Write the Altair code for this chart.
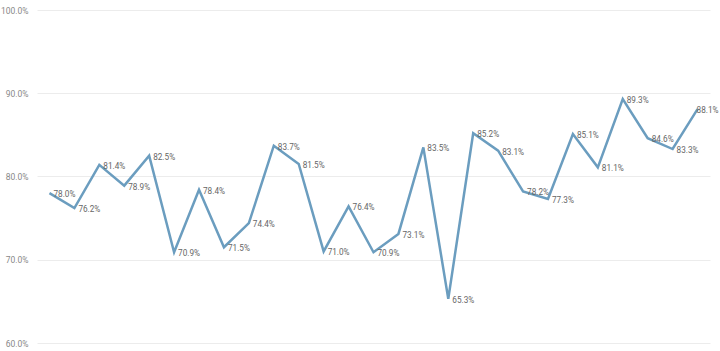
import altair as alt
import pandas as pd

values = [78.0, 76.2, 81.4, 78.9, 82.5, 70.9, 78.4, 71.5, 74.4, 83.7, 81.5, 71.0, 76.4,
          70.9, 73.1, 83.5, 65.3, 85.2, 83.1, 78.2, 77.3, 85.1, 81.1, 89.3, 84.6, 83.3, 88.1]
idx = list(range(1, len(values) + 1))

df = pd.DataFrame({"idx": idx, "v": [x / 100 for x in values]})
last = len(values)

x = alt.X("idx:O", axis=None, scale=alt.Scale(paddingInner=0, paddingOuter=0))
y = alt.Y("v:Q", scale=alt.Scale(domain=[0.6, 1.0], nice=False, zero=False),
          axis=alt.Axis(format=".1%", values=[0.6, 0.7, 0.8, 0.9, 1.0], title=None,
                        domain=False, ticks=False, labelColor="#888", labelFontSize=8.5,
                        labelFont="Roboto", labelPadding=9, gridColor="#ececec", gridWidth=1))

base = alt.Chart(df)
line = base.mark_line(color="#6b9dbf", strokeWidth=2.5).encode(x=x, y=y)
text_style = dict(align="left", baseline="middle", dy=2, fontSize=8.2, font="Roboto", color="#666")
text = base.transform_filter(alt.datum.idx < last).mark_text(dx=4, **text_style).encode(
    x=x, y=y, text=alt.Text("v:Q", format=".1%"))
text_last = base.transform_filter(alt.datum.idx == last).mark_text(dx=-1, **text_style).encode(
    x=x, y=y, text=alt.Text("v:Q", format=".1%"))

chart = (line + text + text_last).properties(
    width=673, height=333,
    autosize=alt.AutoSizeParams(type="none"),
    padding={"left": 37, "top": 10, "right": 10, "bottom": 8},
).configure(background="white", view=alt.ViewConfig(stroke=None))

chart.save("out.html", embed_options={"renderer": "svg", "actions": False})
